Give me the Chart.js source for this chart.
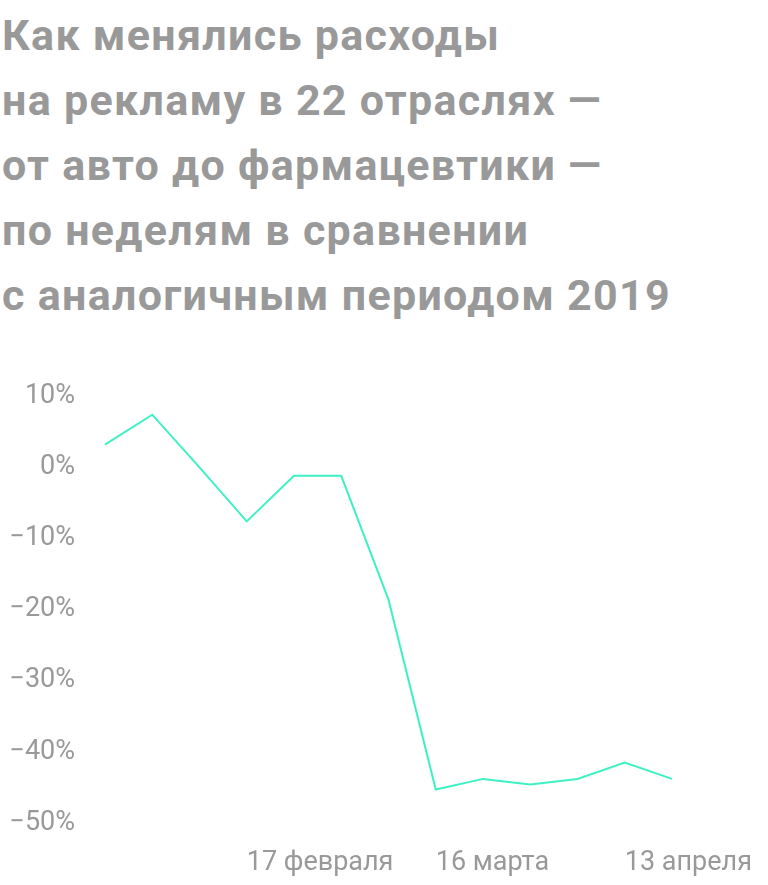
<!DOCTYPE html>
<html><head><meta charset="utf-8">
<script src="https://cdn.jsdelivr.net/npm/chart.js@4/dist/chart.umd.min.js"></script>
<style>
body{margin:0;background:#fff;width:768px;height:885px;overflow:hidden;position:relative;font-family:Roboto,sans-serif}
#t{position:absolute;left:2px;top:3px;font-weight:700;font-size:43px;line-height:65px;color:#999;letter-spacing:1.3px}
#w{position:absolute;left:0;top:350px;width:768px;height:535px}
</style></head><body>
<div id="t">Как менялись расходы<br>на рекламу в 22 отраслях —<br>от авто до фармацевтики —<br>по неделям в сравнении<br>с аналогичным периодом 2019</div>
<div id="w"><canvas id="c"></canvas></div>
<script>
const weeks=["27 января","3 февраля","10 февраля","17 февраля","24 февраля","2 марта","9 марта","16 марта","23 марта","30 марта","6 апреля","13 апреля","20 апреля"];
const shownLabels=["17 февраля","16 марта","13 апреля"];
const change=[3.2,7.4,0,-7.6,-1.2,-1.2,-18.6,-45.3,-43.8,-44.6,-43.8,-41.5,-43.8];
new Chart(document.getElementById('c'),{type:'line',
data:{labels:weeks,datasets:[{data:change,borderColor:'#3ef0c4',borderWidth:2,pointRadius:0,tension:0,fill:false}]},
options:{responsive:true,maintainAspectRatio:false,animation:false,
layout:{padding:{top:15,right:96,bottom:0,left:0}},
plugins:{legend:{display:false},tooltip:{enabled:false}},
scales:{
x:{grid:{display:false,drawTicks:false},border:{display:false},
 afterFit:s=>{s.height=62;},
 ticks:{autoSkip:false,maxRotation:0,align:'start',padding:24,color:'#999',font:{family:'Roboto',size:27},
 callback:(v,i)=>shownLabels.includes(weeks[i])?weeks[i]:''}},
y:{min:-50,max:10,grid:{display:false,drawTicks:false},border:{display:false},
 afterFit:s=>{s.width=105;},
 ticks:{stepSize:10,padding:30,color:'#999',font:{family:'Roboto',size:27},
 callback:v=>(v<0?'−'+(-v):v)+'%'}}}}});
</script></body></html>
